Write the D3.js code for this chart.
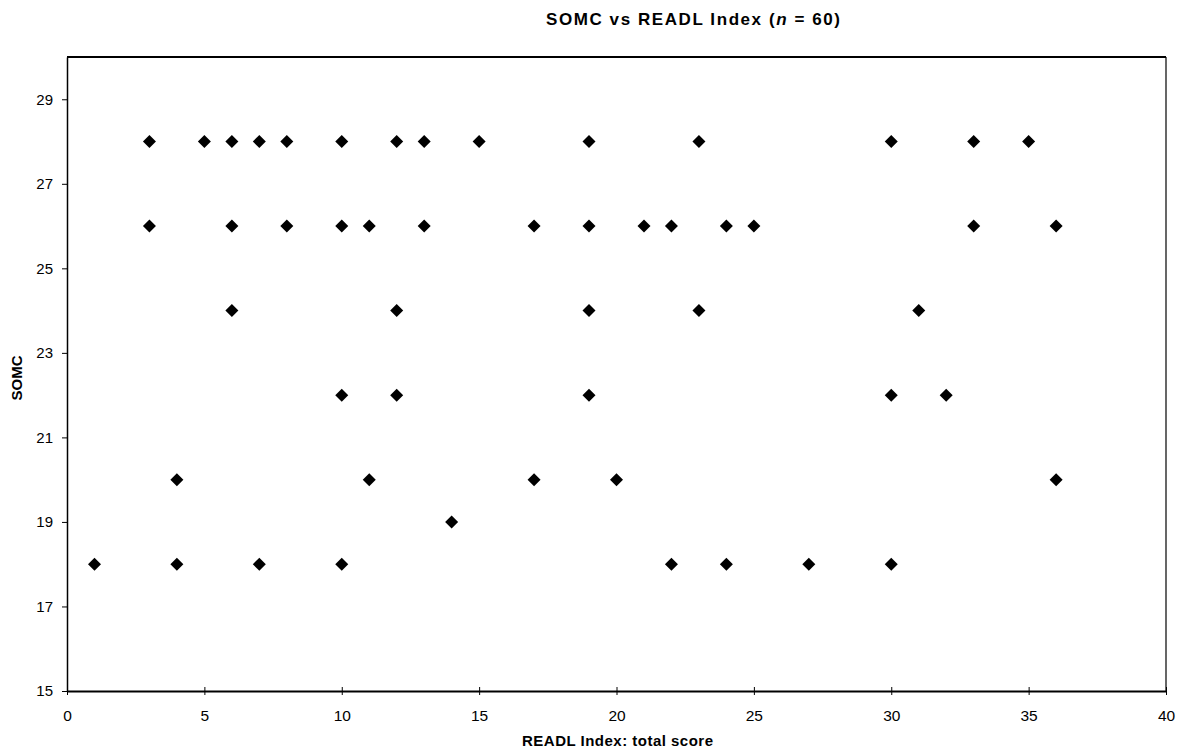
<!DOCTYPE html>
<html><head><meta charset="utf-8">
<script src="https://cdn.jsdelivr.net/npm/d3@7/dist/d3.min.js"></script>
<style>body{margin:0;background:#fff;} text{font-family:"Liberation Sans",Arial,sans-serif;}</style>
</head><body><svg id="c" width="1188" height="751"></svg>
<script>
const readl = [3,5,6,7,8,10,12,13,15,19,23,30,33,35,
               3,6,8,10,11,13,17,19,21,22,24,25,33,36,
               6,12,19,23,31,
               10,12,19,30,32,
               4,11,17,20,36,
               14,
               1,4,7,10,22,24,27,30];
const somc  = [28,28,28,28,28,28,28,28,28,28,28,28,28,28,
               26,26,26,26,26,26,26,26,26,26,26,26,26,26,
               24,24,24,24,24,
               22,22,22,22,22,
               20,20,20,20,20,
               19,
               18,18,18,18,18,18,18,18];
const xTicks = [0,5,10,15,20,25,30,35,40];
const yTicks = [15,17,19,21,23,25,27,29];

const svg = d3.select("#c");
const L=67, R=1166, T=57, B=691;
const x = d3.scaleLinear().domain([0,40]).range([L,R]);
const y = d3.scaleLinear().domain([15,30]).range([B,T]);

// frame
svg.append("line").attr("x1",L).attr("x2",R).attr("y1",T).attr("y2",T).attr("stroke","#000").attr("stroke-width",2);
svg.append("line").attr("x1",R).attr("x2",R).attr("y1",T).attr("y2",B).attr("stroke","#000").attr("stroke-width",1.2);

const xa = svg.append("g").attr("transform",`translate(0,${B})`)
  .call(d3.axisBottom(x).tickValues(xTicks).tickSize(4).tickSizeOuter(0));
xa.select(".domain").attr("stroke-width",2);
xa.selectAll(".tick line").attr("y1",-4).attr("y2",4);
xa.selectAll(".tick text").attr("y",19).attr("font-size",15.5).attr("fill","#000").attr("font-family","Liberation Sans, Arial, sans-serif");

const ya = svg.append("g").attr("transform",`translate(${L},0)`)
  .call(d3.axisLeft(y).tickValues(yTicks).tickSize(5).tickSizeOuter(0));
ya.select(".domain").attr("stroke-width",1.5);
ya.selectAll(".tick line").attr("x1",-5).attr("x2",1);
ya.selectAll(".tick text").attr("x",-14).attr("font-size",15).attr("fill","#000").attr("font-family","Liberation Sans, Arial, sans-serif");

svg.append("g").selectAll("path").data(readl.map((d,i)=>[d,somc[i]])).join("path")
  .attr("d","M0,-6.5L6.5,0L0,6.5L-6.5,0Z")
  .attr("transform",d=>`translate(${x(d[0])},${y(d[1])})`)
  .attr("fill","#000");

const title = svg.append("text").attr("x",546).attr("y",25)
  .attr("font-size",17).attr("font-weight","bold")
  .attr("textLength",294).attr("lengthAdjust","spacing");
title.append("tspan").text("SOMC vs READL Index (");
title.append("tspan").attr("font-style","italic").text("n");
title.append("tspan").text(" = 60)");

svg.append("text").attr("x",522).attr("y",746)
  .attr("font-size",15).attr("font-weight","bold")
  .attr("textLength",191).attr("lengthAdjust","spacing").text("READL Index: total score");
svg.append("text").attr("transform","translate(22,378) rotate(-90)").attr("text-anchor","middle")
  .attr("font-size",15).attr("font-weight","bold").text("SOMC");
</script></body></html>
